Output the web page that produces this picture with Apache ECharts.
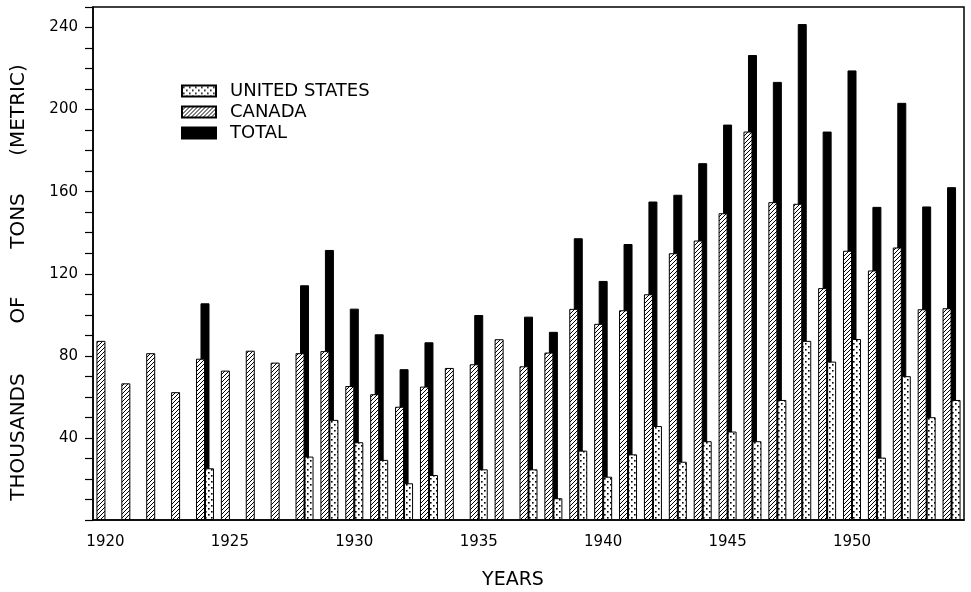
<!doctype html>
<html>
<head>
<meta charset="utf-8">
<title>Tons by year</title>
<script src="https://cdn.jsdelivr.net/npm/echarts@6/dist/echarts.min.js"></script>
<style>
  html, body { margin: 0; padding: 0; background: #fff; }
  #chart { width: 971px; height: 592px; }
</style>
</head>
<body>
<div id="chart"></div>
<script>
// categories and values (thousands of metric tons)
var years = ['1920','1921','1922','1923','1924','1925','1926','1927','1928','1929',
             '1930','1931','1932','1933','1934','1935','1936','1937','1938','1939',
             '1940','1941','1942','1943','1944','1945','1946','1947','1948','1949',
             '1950','1951','1952','1953','1954'];
var canada = [87.3, 66.6, 81.3, 62.3, 78.6, 72.8, 82.5, 76.7, 81.3, 82.3,
              65.3, 61.3, 55.2, 65.0, 74.1, 75.9, 88.1, 74.9, 81.6, 102.9,
              95.6, 102.2, 110.0, 130.0, 136.2, 149.5, 189.3, 154.9, 154.1, 113.0,
              131.2, 121.6, 132.8, 102.7, 103.2];
var unitedStates = [null, null, null, null, 25.2, null, null, null, 30.9, 48.8,
                    37.9, 29.3, 17.9, 21.9, null, 24.7, null, 24.7, 10.6, 33.8,
                    21.1, 32.0, 45.8, 28.4, 38.4, 43.1, 38.4, 58.5, 87.3, 77.2,
                    88.2, 30.4, 70.1, 50.1, 58.5];
var total = [null, null, null, null, 105.6, null, null, null, 114.4, 131.6,
             103.0, 90.5, 73.5, 86.6, null, 99.9, null, 99.1, 91.7, 137.3,
             116.5, 134.5, 155.2, 158.5, 173.9, 192.7, 226.6, 213.5, 241.7, 189.3,
             219.1, 152.6, 203.3, 152.8, 162.2];
var labelYears = ['1920', '1925', '1930', '1935', '1940', '1945', '1950'];

var FONT = '"DejaVu Sans", sans-serif';

// fill patterns
function hatchPattern() {
  var c = document.createElement('canvas');
  c.width = 4; c.height = 4;
  var g = c.getContext('2d');
  g.fillStyle = '#fff';
  g.fillRect(0, 0, 4, 4);
  g.strokeStyle = '#000';
  g.lineWidth = 1;
  g.beginPath();
  g.moveTo(0, 4); g.lineTo(4, 0);
  g.moveTo(-1, 1); g.lineTo(1, -1);
  g.moveTo(3, 5); g.lineTo(5, 3);
  g.stroke();
  return c;
}
function dotPattern() {
  var c = document.createElement('canvas');
  c.width = 6; c.height = 6;
  var g = c.getContext('2d');
  g.fillStyle = '#fff';
  g.fillRect(0, 0, 6, 6);
  g.fillStyle = '#000';
  g.fillRect(1, 1, 1.6, 1.6);
  g.fillRect(4, 4, 1.6, 1.6);
  return c;
}

var chart = echarts.init(document.getElementById('chart'));

function yTitle(text, y) {
  return {
    type: 'text', x: 19, y: y, rotation: Math.PI / 2,
    style: { text: text, font: '20px ' + FONT, fill: '#000', align: 'center', verticalAlign: 'middle' }
  };
}

chart.setOption({
  animation: false,
  backgroundColor: '#fff',
  grid: {
    left: 93, right: 7, top: 7, bottom: 72,
    show: true, borderColor: '#000', borderWidth: 1.5, backgroundColor: 'transparent'
  },
  legend: {
    data: ['UNITED STATES', 'CANADA', 'TOTAL'],
    orient: 'vertical',
    left: 176, top: 77,
    itemWidth: 34, itemHeight: 11, itemGap: 3,
    icon: 'rect',
    textStyle: { fontFamily: FONT, fontSize: 18, color: '#000', padding: [0, 0, 0, 9] }
  },
  xAxis: {
    type: 'category',
    data: years,
    axisLine: { lineStyle: { color: '#000', width: 1.5 } },
    axisTick: { alignWithLabel: true, interval: 0, length: 8, lineStyle: { color: '#000', width: 1.2 } },
    axisLabel: {
      interval: function (i, v) { return labelYears.indexOf(v) >= 0; },
      margin: 15, fontFamily: FONT, fontSize: 15, color: '#000'
    },
    splitLine: { show: false }
  },
  yAxis: {
    type: 'value',
    min: 0, max: 250, interval: 10,
    axisLine: { show: true, lineStyle: { color: '#000', width: 1.5 } },
    axisTick: { show: true, length: 8, lineStyle: { color: '#000', width: 1.2 } },
    axisLabel: {
      margin: 15, fontFamily: FONT, fontSize: 15, color: '#000',
      formatter: function (v) { return (v > 0 && v % 40 === 0) ? String(v) : ''; }
    },
    splitLine: { show: false }
  },
  series: [
    {
      name: 'CANADA', type: 'bar', data: canada, z: 3,
      barWidth: 9, barGap: '-50%',
      itemStyle: { color: { image: hatchPattern(), repeat: 'repeat' }, borderColor: '#000', borderWidth: 1 }
    },
    {
      name: 'TOTAL', type: 'bar', data: total, z: 2,
      barWidth: 9, barGap: '-50%',
      itemStyle: { color: '#000', borderColor: '#000', borderWidth: 1 }
    },
    {
      name: 'UNITED STATES', type: 'bar', data: unitedStates, z: 3,
      barWidth: 9, barGap: '-50%',
      itemStyle: { color: { image: dotPattern(), repeat: 'repeat' }, borderColor: '#000', borderWidth: 1 }
    }
  ],
  graphic: [
    {
      type: 'text', x: 513, y: 580,
      style: { text: 'YEARS', font: '19px ' + FONT, fill: '#000', align: 'center', verticalAlign: 'middle' }
    },
    yTitle('THOUSANDS', 437),
    yTitle('OF', 310),
    yTitle('TONS', 221),
    yTitle('(METRIC)', 110)
  ]
});
</script>
</body>
</html>
